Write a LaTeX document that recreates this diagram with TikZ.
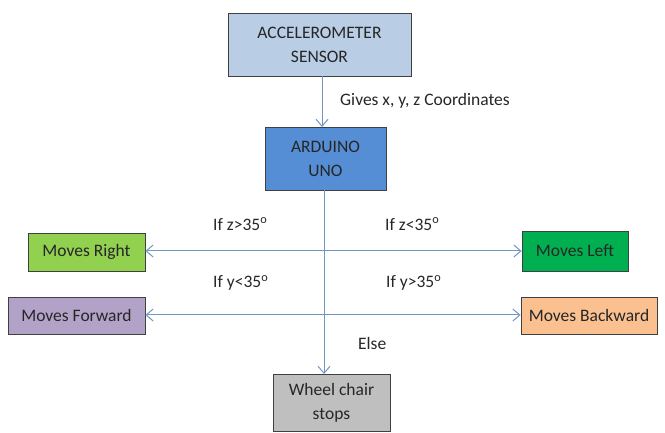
\documentclass[tikz,border=0pt]{standalone}
\usepackage{fontspec}
\setmainfont{Carlito}
\usetikzlibrary{arrows.meta}
\definecolor{accfill}{HTML}{B9CDE5}
\definecolor{ardfill}{HTML}{558ED5}
\definecolor{rightfill}{HTML}{92D050}
\definecolor{leftfill}{HTML}{00B050}
\definecolor{fwdfill}{HTML}{B3A2C7}
\definecolor{bwdfill}{HTML}{FAC090}
\definecolor{stopfill}{HTML}{BFBFBF}
\definecolor{linec}{HTML}{7295C4}
\definecolor{boxline}{HTML}{404040}
\definecolor{textc}{HTML}{262626}
\tikzset{
  box/.style={draw=boxline, line width=0.8pt, align=center, inner sep=0pt, text=textc, font=\fontsize{17.5}{24}\selectfont},
  conn/.style={draw=linec, line width=1pt, -{Straight Barb[length=7pt,width=12pt]}},
  lbl/.style={font=\fontsize{17.5}{24}\selectfont, inner sep=0pt, text=textc}
}
\begin{document}
\begin{tikzpicture}[x=1pt,y=-1pt]
\useasboundingbox (0,0) rectangle (665,433);
\node[box, fill=accfill, minimum width=183pt, minimum height=63pt] (acc) at (319.5,44.5) {ACCELEROMETER\\SENSOR};
\node[box, fill=ardfill, minimum width=121pt, minimum height=63pt] (ard) at (325.5,158.5) {ARDUINO\\UNO};
\node[box, fill=rightfill, minimum width=117pt, minimum height=38pt] (right) at (86.5,252) {Moves Right};
\node[box, fill=leftfill, minimum width=106pt, minimum height=40pt] (left) at (575,251) {Moves Left};
\node[box, fill=fwdfill, minimum width=137pt, minimum height=37pt] (fwd) at (76.5,315.5) {Moves Forward};
\node[box, fill=bwdfill, minimum width=136pt, minimum height=37pt] (bwd) at (589,315.5) {Moves Backward};
\node[box, fill=stopfill, minimum width=117pt, minimum height=57pt] (stop) at (331.5,402.5) {Wheel chair\\stops};
\coordinate (accb) at (322,76);
\coordinate (ardt) at (322,127);
\coordinate (ardb) at (324,190);
\coordinate (stopt) at (324,374);
\coordinate (r1) at (324,251);
\coordinate (r2) at (324,315);
\draw[conn] (accb) -- (ardt);
\draw[conn] (ardb) -- (stopt);
\draw[conn] (r1) -- (right.east |- r1);
\draw[conn] (r1) -- (left.west |- r1);
\draw[conn] (r2) -- (fwd.east |- r2);
\draw[conn] (r2) -- (bwd.west |- r2);
\node[lbl, anchor=west] (l0) at (340,101) {Gives x, y, z Coordinates};
\node[lbl, anchor=west] (l1) at (213,224) {If z>35\textsuperscript{o}};
\node[lbl, anchor=west] (l2) at (385,224) {If z<35\textsuperscript{o}};
\node[lbl, anchor=west] (l3) at (213,283) {If y<35\textsuperscript{o}};
\node[lbl, anchor=west] (l4) at (386,283) {If y>35\textsuperscript{o}};
\node[lbl, anchor=west] (l5) at (358,343) {Else};
\end{tikzpicture}
\end{document}
